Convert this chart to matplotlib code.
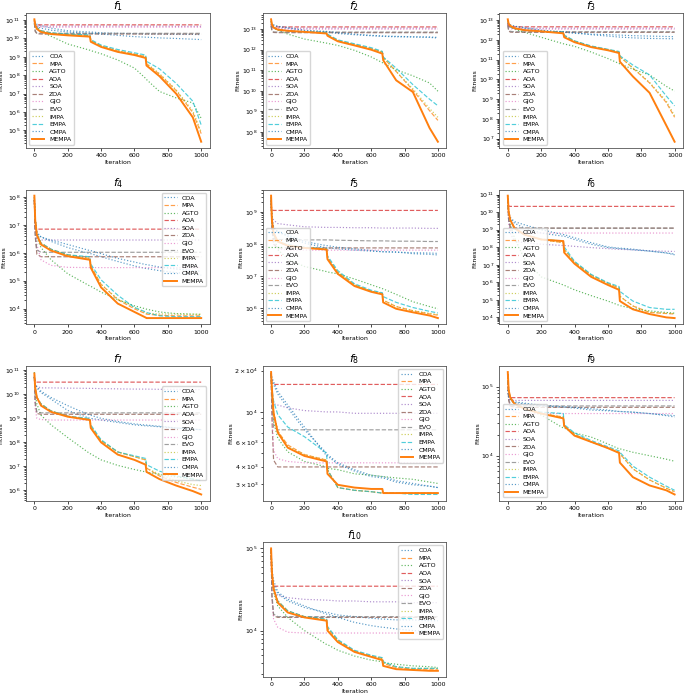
import numpy as np
import matplotlib
matplotlib.use("Agg")
import matplotlib.pyplot as plt

ITERS = [0, 5, 15, 40, 100, 200, 333, 338, 400, 500, 600, 667, 672, 750, 850, 950, 1000]
ALGOS = ["COA", "MPA", "AGTO", "AOA", "SOA", "ZOA", "GJO", "EVO", "IMPA", "EMPA", "CMPA", "MEMPA"]

# log10(fitness) values, one list per algorithm
F1 = {
    "COA":   [10.91, 10.82, 10.77, 10.70, 10.56, 10.42, 10.35, 10.35, 10.31, 10.28, 10.26, 10.24, 10.24, 10.24, 10.22, 10.22, 10.21],
    "MPA":   [11.00, 10.77, 10.59, 10.42, 10.29, 10.21, 10.15, 9.89, 9.59, 9.32, 9.15, 9.01, 8.62, 8.06, 7.17, 5.97, 4.83],
    "AGTO":  [10.82, 10.65, 10.52, 10.38, 10.12, 9.70, 9.36, 9.34, 9.17, 8.83, 8.39, 7.83, 7.77, 7.12, 6.77, 6.50, 5.66],
    "AOA":   [10.95, 10.77, 10.74, 10.74, 10.74, 10.74, 10.74, 10.74, 10.74, 10.74, 10.74, 10.74, 10.74, 10.74, 10.74, 10.74, 10.74],
    "SOA":   [10.95, 10.74, 10.68, 10.67, 10.67, 10.67, 10.67, 10.67, 10.67, 10.67, 10.67, 10.67, 10.67, 10.67, 10.66, 10.66, 10.66],
    "ZOA":   [10.82, 10.38, 10.26, 10.24, 10.24, 10.24, 10.24, 10.24, 10.24, 10.24, 10.24, 10.24, 10.24, 10.24, 10.24, 10.24, 10.24],
    "GJO":   [10.91, 10.70, 10.65, 10.62, 10.61, 10.61, 10.61, 10.61, 10.61, 10.61, 10.61, 10.61, 10.61, 10.61, 10.61, 10.61, 10.61],
    "EVO":   [10.82, 10.42, 10.29, 10.28, 10.28, 10.28, 10.28, 10.28, 10.28, 10.28, 10.28, 10.28, 10.28, 10.28, 10.28, 10.28, 10.28],
    "IMPA":  [11.00, 10.77, 10.59, 10.42, 10.29, 10.22, 10.17, 9.89, 9.61, 9.34, 9.15, 9.03, 8.65, 8.09, 7.21, 6.06, 4.92],
    "EMPA":  [11.00, 10.77, 10.59, 10.42, 10.31, 10.24, 10.19, 9.94, 9.64, 9.40, 9.22, 9.10, 8.76, 8.35, 7.56, 6.59, 5.30],
    "CMPA":  [10.82, 10.74, 10.65, 10.56, 10.45, 10.35, 10.28, 10.28, 10.24, 10.17, 10.10, 10.07, 10.07, 10.03, 10.00, 9.96, 9.94],
    "MEMPA": [11.04, 10.74, 10.52, 10.35, 10.24, 10.17, 10.10, 9.82, 9.54, 9.27, 9.10, 8.94, 8.53, 7.95, 7.00, 5.71, 4.39],
}
F2 = {
    "COA":   [13.32, 13.24, 13.19, 13.13, 13.05, 12.92, 12.86, 12.86, 12.79, 12.73, 12.68, 12.65, 12.65, 12.63, 12.62, 12.60, 12.57],
    "MPA":   [13.40, 13.21, 13.08, 12.98, 12.92, 12.87, 12.83, 12.73, 12.44, 12.25, 12.05, 11.89, 11.62, 10.94, 10.03, 9.03, 8.56],
    "AGTO":  [13.24, 13.13, 13.05, 12.95, 12.76, 12.52, 12.32, 12.31, 12.21, 11.97, 11.65, 11.37, 11.35, 11.02, 10.73, 10.38, 9.98],
    "AOA":   [13.24, 13.14, 13.11, 13.11, 13.11, 13.11, 13.11, 13.11, 13.11, 13.11, 13.11, 13.11, 13.11, 13.11, 13.11, 13.11, 13.11],
    "SOA":   [13.24, 13.11, 13.06, 13.05, 13.05, 13.05, 13.05, 13.05, 13.05, 13.05, 13.05, 13.05, 13.05, 13.05, 13.05, 13.05, 13.05],
    "ZOA":   [13.16, 12.92, 12.84, 12.83, 12.83, 12.83, 12.83, 12.83, 12.83, 12.83, 12.83, 12.83, 12.83, 12.83, 12.83, 12.83, 12.83],
    "GJO":   [13.21, 13.08, 13.02, 13.00, 13.00, 13.00, 13.00, 13.00, 13.00, 13.00, 13.00, 13.00, 13.00, 13.00, 13.00, 13.00, 13.00],
    "EVO":   [13.16, 12.95, 12.87, 12.86, 12.86, 12.86, 12.86, 12.86, 12.86, 12.86, 12.86, 12.86, 12.86, 12.86, 12.86, 12.86, 12.86],
    "IMPA":  [13.40, 13.21, 13.08, 12.98, 12.92, 12.87, 12.83, 12.73, 12.44, 12.25, 12.05, 11.89, 11.62, 10.94, 10.10, 9.14, 8.71],
    "EMPA":  [13.40, 13.21, 13.08, 12.98, 12.92, 12.87, 12.84, 12.76, 12.48, 12.29, 12.10, 11.92, 11.65, 11.10, 10.30, 9.59, 9.27],
    "CMPA":  [13.32, 13.27, 13.21, 13.14, 13.08, 12.95, 12.89, 12.89, 12.83, 12.76, 12.70, 12.67, 12.67, 12.65, 12.63, 12.62, 12.60],
    "MEMPA": [13.48, 13.24, 13.08, 12.98, 12.92, 12.87, 12.79, 12.68, 12.41, 12.21, 12.00, 11.81, 11.49, 10.51, 9.94, 8.19, 7.52],
}
F3 = {
    "COA":   [12.88, 12.80, 12.75, 12.70, 12.60, 12.47, 12.39, 12.39, 12.34, 12.30, 12.27, 12.25, 12.25, 12.22, 12.20, 12.18, 12.17],
    "MPA":   [13.00, 12.80, 12.67, 12.59, 12.50, 12.44, 12.39, 12.22, 11.94, 11.68, 11.51, 11.39, 11.15, 10.57, 9.82, 8.83, 8.08],
    "AGTO":  [12.83, 12.75, 12.67, 12.55, 12.39, 12.14, 11.81, 11.80, 11.68, 11.39, 11.06, 10.81, 10.79, 10.52, 10.23, 9.65, 9.41],
    "AOA":   [12.83, 12.70, 12.67, 12.67, 12.67, 12.67, 12.67, 12.67, 12.67, 12.67, 12.67, 12.67, 12.67, 12.67, 12.67, 12.67, 12.67],
    "SOA":   [12.83, 12.67, 12.62, 12.60, 12.60, 12.60, 12.60, 12.60, 12.60, 12.60, 12.60, 12.60, 12.60, 12.60, 12.60, 12.60, 12.60],
    "ZOA":   [12.75, 12.47, 12.40, 12.39, 12.39, 12.39, 12.39, 12.39, 12.39, 12.39, 12.39, 12.39, 12.39, 12.39, 12.39, 12.39, 12.39],
    "GJO":   [12.80, 12.64, 12.57, 12.55, 12.55, 12.55, 12.55, 12.55, 12.55, 12.55, 12.55, 12.55, 12.55, 12.55, 12.55, 12.55, 12.55],
    "EVO":   [12.75, 12.50, 12.44, 12.42, 12.42, 12.42, 12.42, 12.42, 12.42, 12.42, 12.42, 12.42, 12.42, 12.42, 12.42, 12.42, 12.42],
    "IMPA":  [13.00, 12.80, 12.67, 12.59, 12.50, 12.44, 12.39, 12.22, 11.94, 11.68, 11.51, 11.39, 11.15, 10.60, 9.85, 8.91, 8.16],
    "EMPA":  [13.00, 12.80, 12.67, 12.59, 12.50, 12.44, 12.40, 12.25, 11.96, 11.70, 11.53, 11.42, 11.20, 10.73, 10.23, 9.16, 8.66],
    "CMPA":  [12.88, 12.83, 12.77, 12.70, 12.64, 12.50, 12.42, 12.42, 12.37, 12.27, 12.20, 12.15, 12.15, 12.11, 12.08, 12.07, 12.06],
    "MEMPA": [13.05, 12.83, 12.72, 12.60, 12.50, 12.44, 12.34, 12.14, 11.89, 11.64, 11.48, 11.34, 10.90, 10.15, 9.32, 7.67, 6.84],
}
F4 = {
    "COA":   [7.89, 7.23, 6.74, 6.57, 6.41, 6.19, 5.97, 5.97, 5.86, 5.69, 5.53, 5.44, 5.44, 5.36, 5.29, 5.23, 5.20],
    "MPA":   [8.00, 7.23, 6.68, 6.35, 6.13, 5.93, 5.80, 5.53, 4.87, 4.32, 3.99, 3.82, 3.80, 3.76, 3.74, 3.74, 3.74],
    "AGTO":  [7.89, 6.90, 6.52, 6.19, 5.75, 5.25, 4.81, 4.80, 4.59, 4.32, 4.10, 3.99, 3.98, 3.88, 3.82, 3.80, 3.79],
    "AOA":   [7.89, 6.90, 6.85, 6.85, 6.85, 6.85, 6.85, 6.85, 6.85, 6.85, 6.85, 6.85, 6.85, 6.85, 6.85, 6.85, 6.85],
    "SOA":   [7.89, 6.80, 6.50, 6.46, 6.46, 6.46, 6.46, 6.46, 6.46, 6.46, 6.46, 6.46, 6.46, 6.46, 6.46, 6.46, 6.46],
    "ZOA":   [7.89, 6.60, 5.95, 5.86, 5.86, 5.86, 5.86, 5.86, 5.86, 5.86, 5.86, 5.86, 5.86, 5.86, 5.86, 5.86, 5.86],
    "GJO":   [7.89, 6.90, 6.30, 5.75, 5.55, 5.48, 5.47, 5.47, 5.47, 5.47, 5.47, 5.47, 5.47, 5.47, 5.47, 5.47, 5.47],
    "EVO":   [7.89, 6.70, 6.10, 6.02, 6.02, 6.02, 6.02, 6.02, 6.02, 6.02, 6.02, 6.02, 6.02, 6.02, 6.02, 6.02, 6.02],
    "IMPA":  [8.00, 7.23, 6.68, 6.35, 6.13, 5.93, 5.80, 5.53, 4.87, 4.35, 4.04, 3.85, 3.83, 3.81, 3.80, 3.80, 3.80],
    "EMPA":  [8.00, 7.23, 6.68, 6.35, 6.13, 5.93, 5.86, 5.60, 5.03, 4.48, 4.04, 3.88, 3.86, 3.74, 3.71, 3.71, 3.71],
    "CMPA":  [7.89, 7.12, 6.68, 6.57, 6.46, 6.30, 6.08, 6.08, 5.97, 5.80, 5.67, 5.58, 5.58, 5.49, 5.42, 5.36, 5.34],
    "MEMPA": [8.05, 7.18, 6.63, 6.30, 6.08, 5.88, 5.75, 5.47, 4.76, 4.18, 3.88, 3.68, 3.66, 3.66, 3.66, 3.66, 3.66],
}
F5 = {
    "COA":   [9.36, 8.75, 8.50, 8.40, 8.24, 8.03, 7.88, 7.88, 7.85, 7.81, 7.78, 7.76, 7.76, 7.75, 7.73, 7.72, 7.71],
    "MPA":   [9.46, 8.69, 8.29, 8.08, 7.95, 7.88, 7.85, 7.58, 7.12, 6.73, 6.53, 6.46, 6.25, 6.05, 5.92, 5.82, 5.78],
    "AGTO":  [9.36, 8.75, 8.24, 7.83, 7.53, 7.30, 7.14, 7.13, 7.07, 6.91, 6.73, 6.61, 6.60, 6.43, 6.20, 6.05, 5.98],
    "AOA":   [9.25, 9.07, 9.05, 9.05, 9.05, 9.05, 9.05, 9.05, 9.05, 9.05, 9.05, 9.05, 9.05, 9.05, 9.05, 9.05, 9.05],
    "SOA":   [9.36, 8.85, 8.75, 8.64, 8.60, 8.54, 8.52, 8.52, 8.52, 8.51, 8.51, 8.50, 8.50, 8.50, 8.50, 8.49, 8.49],
    "ZOA":   [9.36, 8.50, 8.00, 7.88, 7.88, 7.88, 7.88, 7.88, 7.88, 7.88, 7.88, 7.88, 7.88, 7.88, 7.88, 7.88, 7.88],
    "GJO":   [9.36, 8.60, 8.00, 7.85, 7.81, 7.81, 7.81, 7.81, 7.81, 7.81, 7.81, 7.81, 7.81, 7.81, 7.81, 7.81, 7.81],
    "EVO":   [9.36, 8.50, 8.16, 8.14, 8.14, 8.13, 8.13, 8.13, 8.12, 8.11, 8.10, 8.10, 8.10, 8.09, 8.09, 8.08, 8.08],
    "IMPA":  [9.46, 8.69, 8.29, 8.08, 7.95, 7.88, 7.85, 7.58, 7.12, 6.73, 6.53, 6.46, 6.25, 6.05, 5.92, 5.84, 5.80],
    "EMPA":  [9.46, 8.69, 8.29, 8.08, 7.98, 7.90, 7.86, 7.63, 7.17, 6.76, 6.56, 6.48, 6.36, 6.18, 6.02, 5.90, 5.85],
    "CMPA":  [9.36, 8.85, 8.54, 8.35, 8.29, 8.08, 7.95, 7.95, 7.90, 7.85, 7.80, 7.76, 7.76, 7.75, 7.70, 7.68, 7.66],
    "MEMPA": [9.51, 8.75, 8.34, 8.08, 7.95, 7.88, 7.83, 7.53, 7.07, 6.69, 6.51, 6.43, 6.18, 5.98, 5.87, 5.77, 5.69],
}
F6 = {
    "COA":   [10.76, 10.02, 9.65, 9.37, 9.09, 8.81, 8.63, 8.63, 8.44, 8.17, 7.98, 7.92, 7.92, 7.85, 7.78, 7.68, 7.61],
    "MPA":   [10.76, 10.02, 9.56, 9.09, 8.72, 8.44, 8.26, 7.89, 7.15, 6.41, 5.94, 5.67, 5.20, 4.65, 4.28, 4.22, 4.19],
    "AGTO":  [10.94, 10.02, 9.28, 8.54, 7.33, 6.31, 5.85, 5.83, 5.57, 5.24, 4.93, 4.69, 4.67, 4.50, 4.37, 4.28, 4.24],
    "AOA":   [10.76, 10.35, 10.33, 10.33, 10.33, 10.33, 10.33, 10.33, 10.33, 10.33, 10.33, 10.33, 10.33, 10.33, 10.33, 10.33, 10.33],
    "SOA":   [10.76, 9.50, 8.80, 8.35, 8.26, 8.17, 8.10, 8.10, 8.05, 7.98, 7.92, 7.88, 7.88, 7.85, 7.80, 7.77, 7.76],
    "ZOA":   [10.76, 9.60, 9.15, 9.09, 9.09, 9.09, 9.09, 9.09, 9.09, 9.09, 9.09, 9.09, 9.09, 9.09, 9.09, 9.09, 9.09],
    "GJO":   [10.76, 9.40, 8.95, 8.81, 8.81, 8.81, 8.81, 8.81, 8.81, 8.81, 8.81, 8.81, 8.81, 8.81, 8.81, 8.81, 8.81],
    "EVO":   [10.76, 9.55, 9.12, 9.10, 9.09, 9.09, 9.09, 9.09, 9.09, 9.09, 9.09, 9.09, 9.09, 9.09, 9.09, 9.09, 9.09],
    "IMPA":  [10.76, 10.02, 9.56, 9.09, 8.72, 8.44, 8.26, 7.89, 7.15, 6.41, 5.94, 5.67, 5.20, 4.65, 4.30, 4.24, 4.22],
    "EMPA":  [10.76, 10.02, 9.56, 9.09, 8.72, 8.46, 8.35, 8.02, 7.20, 6.45, 5.98, 5.76, 5.48, 4.93, 4.56, 4.46, 4.46],
    "CMPA":  [10.76, 10.02, 9.70, 9.46, 9.28, 9.00, 8.72, 8.72, 8.54, 8.26, 8.02, 7.95, 7.95, 7.89, 7.78, 7.67, 7.57],
    "MEMPA": [10.94, 10.02, 9.56, 9.09, 8.72, 8.44, 8.35, 7.70, 7.06, 6.31, 5.85, 5.57, 4.93, 4.46, 4.19, 4.00, 3.96],
}
F7 = {
    "COA":   [10.73, 10.40, 10.27, 10.07, 9.80, 9.33, 9.00, 9.00, 8.93, 8.83, 8.73, 8.69, 8.69, 8.65, 8.60, 8.55, 8.53],
    "MPA":   [10.73, 10.27, 9.87, 9.60, 9.31, 9.09, 8.96, 8.67, 8.07, 7.60, 7.40, 7.27, 6.93, 6.60, 6.33, 6.13, 6.04],
    "AGTO":  [10.93, 10.00, 9.60, 9.13, 8.73, 8.20, 7.53, 7.52, 7.27, 7.04, 6.87, 6.77, 6.76, 6.67, 6.56, 6.47, 6.40],
    "AOA":   [10.73, 10.53, 10.51, 10.51, 10.51, 10.51, 10.51, 10.51, 10.51, 10.51, 10.51, 10.51, 10.51, 10.51, 10.51, 10.51, 10.51],
    "SOA":   [10.73, 10.40, 10.33, 10.27, 10.27, 10.26, 10.25, 10.25, 10.24, 10.23, 10.22, 10.22, 10.22, 10.21, 10.21, 10.20, 10.20],
    "ZOA":   [10.73, 9.60, 9.20, 9.17, 9.17, 9.17, 9.17, 9.17, 9.17, 9.17, 9.17, 9.17, 9.17, 9.17, 9.17, 9.17, 9.17],
    "GJO":   [10.73, 9.40, 9.00, 8.95, 8.93, 8.93, 8.93, 8.93, 8.93, 8.93, 8.93, 8.93, 8.93, 8.93, 8.93, 8.93, 8.93],
    "EVO":   [10.73, 9.70, 9.27, 9.23, 9.23, 9.23, 9.23, 9.23, 9.23, 9.23, 9.23, 9.23, 9.23, 9.23, 9.23, 9.23, 9.23],
    "IMPA":  [10.73, 10.27, 9.87, 9.60, 9.31, 9.09, 8.96, 8.67, 8.07, 7.60, 7.40, 7.27, 6.93, 6.67, 6.40, 6.24, 6.20],
    "EMPA":  [10.73, 10.27, 9.87, 9.60, 9.31, 9.09, 9.00, 8.73, 8.11, 7.60, 7.44, 7.33, 7.07, 6.80, 6.60, 6.47, 6.40],
    "CMPA":  [10.73, 10.40, 10.33, 10.13, 9.87, 9.53, 9.13, 9.13, 9.00, 8.87, 8.77, 8.72, 8.72, 8.67, 8.60, 8.55, 8.53],
    "MEMPA": [10.87, 10.27, 9.87, 9.53, 9.27, 9.07, 8.93, 8.60, 8.00, 7.49, 7.27, 7.07, 6.77, 6.47, 6.20, 5.97, 5.83],
}
F8 = {
    "COA":   [4.28, 4.24, 4.20, 4.13, 4.03, 3.87, 3.70, 3.69, 3.63, 3.58, 3.54, 3.53, 3.53, 3.50, 3.48, 3.46, 3.45],
    "MPA":   [4.28, 4.17, 4.00, 3.86, 3.76, 3.69, 3.65, 3.58, 3.45, 3.43, 3.42, 3.41, 3.41, 3.41, 3.41, 3.41, 3.41],
    "AGTO":  [4.27, 4.10, 3.93, 3.81, 3.71, 3.64, 3.60, 3.59, 3.58, 3.55, 3.54, 3.53, 3.53, 3.52, 3.51, 3.49, 3.48],
    "AOA":   [4.28, 4.21, 4.20, 4.20, 4.20, 4.20, 4.20, 4.20, 4.20, 4.20, 4.20, 4.20, 4.20, 4.20, 4.20, 4.20, 4.20],
    "SOA":   [4.28, 4.12, 4.06, 4.05, 4.03, 4.01, 4.00, 4.00, 4.00, 3.99, 3.99, 3.99, 3.99, 3.99, 3.99, 3.99, 3.99],
    "ZOA":   [4.28, 3.95, 3.65, 3.60, 3.60, 3.60, 3.60, 3.60, 3.60, 3.60, 3.60, 3.60, 3.60, 3.60, 3.60, 3.60, 3.60],
    "GJO":   [4.28, 4.00, 3.72, 3.66, 3.64, 3.63, 3.63, 3.63, 3.63, 3.63, 3.63, 3.63, 3.63, 3.63, 3.63, 3.63, 3.63],
    "EVO":   [4.28, 4.05, 3.89, 3.87, 3.87, 3.87, 3.87, 3.87, 3.87, 3.87, 3.87, 3.87, 3.87, 3.87, 3.87, 3.87, 3.87],
    "IMPA":  [4.28, 4.17, 4.00, 3.86, 3.75, 3.69, 3.65, 3.58, 3.45, 3.43, 3.42, 3.41, 3.41, 3.41, 3.41, 3.41, 3.41],
    "EMPA":  [4.28, 4.17, 4.08, 3.98, 3.89, 3.82, 3.70, 3.58, 3.45, 3.43, 3.42, 3.41, 3.41, 3.41, 3.40, 3.40, 3.40],
    "CMPA":  [4.28, 4.25, 4.22, 4.15, 4.05, 3.89, 3.68, 3.68, 3.62, 3.57, 3.53, 3.52, 3.52, 3.49, 3.47, 3.46, 3.45],
    "MEMPA": [4.29, 4.17, 3.99, 3.85, 3.74, 3.68, 3.64, 3.55, 3.47, 3.45, 3.44, 3.44, 3.41, 3.41, 3.41, 3.41, 3.41],
}
F9 = {
    "COA":   [4.95, 4.84, 4.80, 4.77, 4.75, 4.72, 4.70, 4.70, 4.69, 4.66, 4.65, 4.64, 4.64, 4.63, 4.61, 4.59, 4.58],
    "MPA":   [5.18, 4.95, 4.84, 4.75, 4.68, 4.61, 4.56, 4.43, 4.31, 4.20, 4.11, 4.05, 4.03, 3.81, 3.65, 3.53, 3.48],
    "AGTO":  [5.18, 4.95, 4.82, 4.75, 4.68, 4.59, 4.40, 4.40, 4.33, 4.27, 4.17, 4.10, 4.10, 4.05, 4.00, 3.95, 3.92],
    "AOA":   [5.18, 4.86, 4.84, 4.84, 4.84, 4.84, 4.84, 4.84, 4.84, 4.84, 4.84, 4.84, 4.84, 4.84, 4.84, 4.84, 4.84],
    "SOA":   [5.18, 4.84, 4.81, 4.80, 4.80, 4.80, 4.80, 4.80, 4.80, 4.80, 4.80, 4.80, 4.80, 4.80, 4.80, 4.80, 4.80],
    "ZOA":   [5.18, 4.80, 4.72, 4.70, 4.70, 4.70, 4.70, 4.70, 4.70, 4.70, 4.70, 4.70, 4.70, 4.70, 4.70, 4.70, 4.70],
    "GJO":   [5.18, 4.85, 4.70, 4.63, 4.61, 4.61, 4.61, 4.61, 4.61, 4.61, 4.61, 4.61, 4.61, 4.61, 4.61, 4.61, 4.61],
    "EVO":   [5.18, 4.82, 4.74, 4.72, 4.72, 4.72, 4.72, 4.72, 4.72, 4.72, 4.72, 4.72, 4.72, 4.72, 4.72, 4.72, 4.72],
    "IMPA":  [5.18, 4.95, 4.84, 4.75, 4.68, 4.61, 4.56, 4.43, 4.31, 4.20, 4.11, 4.05, 4.03, 3.81, 3.65, 3.53, 3.48],
    "EMPA":  [5.18, 4.95, 4.84, 4.75, 4.68, 4.63, 4.61, 4.45, 4.33, 4.22, 4.13, 4.07, 4.05, 3.85, 3.69, 3.56, 3.50],
    "CMPA":  [4.95, 4.86, 4.82, 4.78, 4.76, 4.73, 4.71, 4.71, 4.70, 4.68, 4.66, 4.64, 4.64, 4.63, 4.61, 4.58, 4.56],
    "MEMPA": [5.21, 4.95, 4.84, 4.75, 4.68, 4.61, 4.54, 4.43, 4.29, 4.20, 4.11, 4.04, 3.90, 3.69, 3.57, 3.50, 3.44],
}
F10 = {
    "COA":   [4.99, 4.67, 4.55, 4.45, 4.36, 4.28, 4.22, 4.22, 4.19, 4.17, 4.15, 4.14, 4.14, 4.13, 4.13, 4.12, 4.12],
    "MPA":   [4.99, 4.71, 4.51, 4.36, 4.24, 4.17, 4.13, 4.03, 3.88, 3.75, 3.69, 3.66, 3.60, 3.55, 3.53, 3.53, 3.53],
    "AGTO":  [4.99, 4.71, 4.47, 4.30, 4.16, 4.00, 3.83, 3.83, 3.76, 3.69, 3.64, 3.62, 3.61, 3.59, 3.57, 3.56, 3.55],
    "AOA":   [4.99, 4.60, 4.54, 4.54, 4.54, 4.54, 4.54, 4.54, 4.54, 4.54, 4.54, 4.54, 4.54, 4.54, 4.54, 4.54, 4.54],
    "SOA":   [4.99, 4.60, 4.47, 4.43, 4.40, 4.38, 4.37, 4.37, 4.36, 4.36, 4.35, 4.35, 4.35, 4.35, 4.34, 4.34, 4.34],
    "ZOA":   [4.99, 4.40, 4.18, 4.16, 4.16, 4.16, 4.16, 4.16, 4.16, 4.16, 4.16, 4.16, 4.16, 4.16, 4.16, 4.16, 4.16],
    "GJO":   [4.99, 4.40, 4.14, 4.04, 3.98, 3.97, 3.97, 3.97, 3.97, 3.97, 3.97, 3.97, 3.97, 3.97, 3.97, 3.97, 3.97],
    "EVO":   [4.99, 4.45, 4.20, 4.17, 4.17, 4.17, 4.17, 4.17, 4.17, 4.17, 4.17, 4.17, 4.17, 4.17, 4.17, 4.17, 4.17],
    "IMPA":  [4.99, 4.71, 4.51, 4.36, 4.24, 4.17, 4.13, 4.03, 3.88, 3.75, 3.69, 3.66, 3.61, 3.56, 3.54, 3.54, 3.54],
    "EMPA":  [4.99, 4.71, 4.51, 4.36, 4.24, 4.17, 4.14, 4.05, 3.89, 3.76, 3.70, 3.67, 3.62, 3.56, 3.54, 3.54, 3.54],
    "CMPA":  [4.99, 4.75, 4.61, 4.47, 4.38, 4.30, 4.20, 4.20, 4.16, 4.10, 4.06, 4.04, 4.04, 4.02, 4.00, 3.99, 3.99],
    "MEMPA": [5.00, 4.71, 4.51, 4.34, 4.22, 4.16, 4.12, 4.00, 3.86, 3.74, 3.68, 3.64, 3.57, 3.53, 3.52, 3.51, 3.51],
}

FUNCS = [F1, F2, F3, F4, F5, F6, F7, F8, F9, F10]
TITLES = [r"$f_{%d}$" % (i + 1) for i in range(10)]
LEGEND_LOCS = ["lower left", "lower left", "lower left", "upper right", "lower left",
               "lower left", "center right", "upper right", "lower left", "upper right"]

COLORS = ["C0", "C1", "C2", "C3", "C4", "C5", "C6", "C7", "C8", "C9", "C0", "C1"]
STYLES = [":", "--", ":", "--", ":", "--", ":", "--", ":", "--", ":", "-"]
POSITIONS = [(0, 0), (0, 1), (0, 2), (1, 0), (1, 1), (1, 2), (2, 0), (2, 1), (2, 2), (3, 1)]

fig = plt.figure(figsize=(6.85, 6.95), dpi=100)
gs = fig.add_gridspec(4, 3, left=0.038, right=0.997, top=0.981, bottom=0.026,
                      wspace=0.29, hspace=0.31)

for k, (r, c) in enumerate(POSITIONS):
    ax = fig.add_subplot(gs[r, c])
    data = FUNCS[k]
    for name, col, ls in zip(ALGOS, COLORS, STYLES):
        y = 10.0 ** np.asarray(data[name])
        if name == "MEMPA":
            ax.plot(ITERS, y, color=col, ls=ls, lw=1.4, label=name, zorder=3)
        else:
            ax.plot(ITERS, y, color=col, ls=ls, lw=0.85, alpha=0.75, label=name)
    ax.set_yscale("log")
    ax.set_xticks([0, 200, 400, 600, 800, 1000])
    ax.set_title(TITLES[k], fontsize=8, pad=1.5)
    ax.set_xlabel("Iteration", fontsize=4.5, labelpad=1)
    ax.set_ylabel("Fitness", fontsize=4.5, labelpad=1)
    ax.tick_params(which="both", labelsize=4.5, width=0.5, pad=1.5)
    ax.tick_params(which="major", length=2.5)
    ax.tick_params(which="minor", length=1.5)
    for sp in ax.spines.values():
        sp.set_linewidth(0.6)
        sp.set_color("#555555")
    ax.legend(loc=LEGEND_LOCS[k], fontsize=4.5, handlelength=2.0, labelspacing=0.35,
              borderpad=0.4, handletextpad=0.8, framealpha=0.8)

fig.savefig("out.png", dpi=100)
